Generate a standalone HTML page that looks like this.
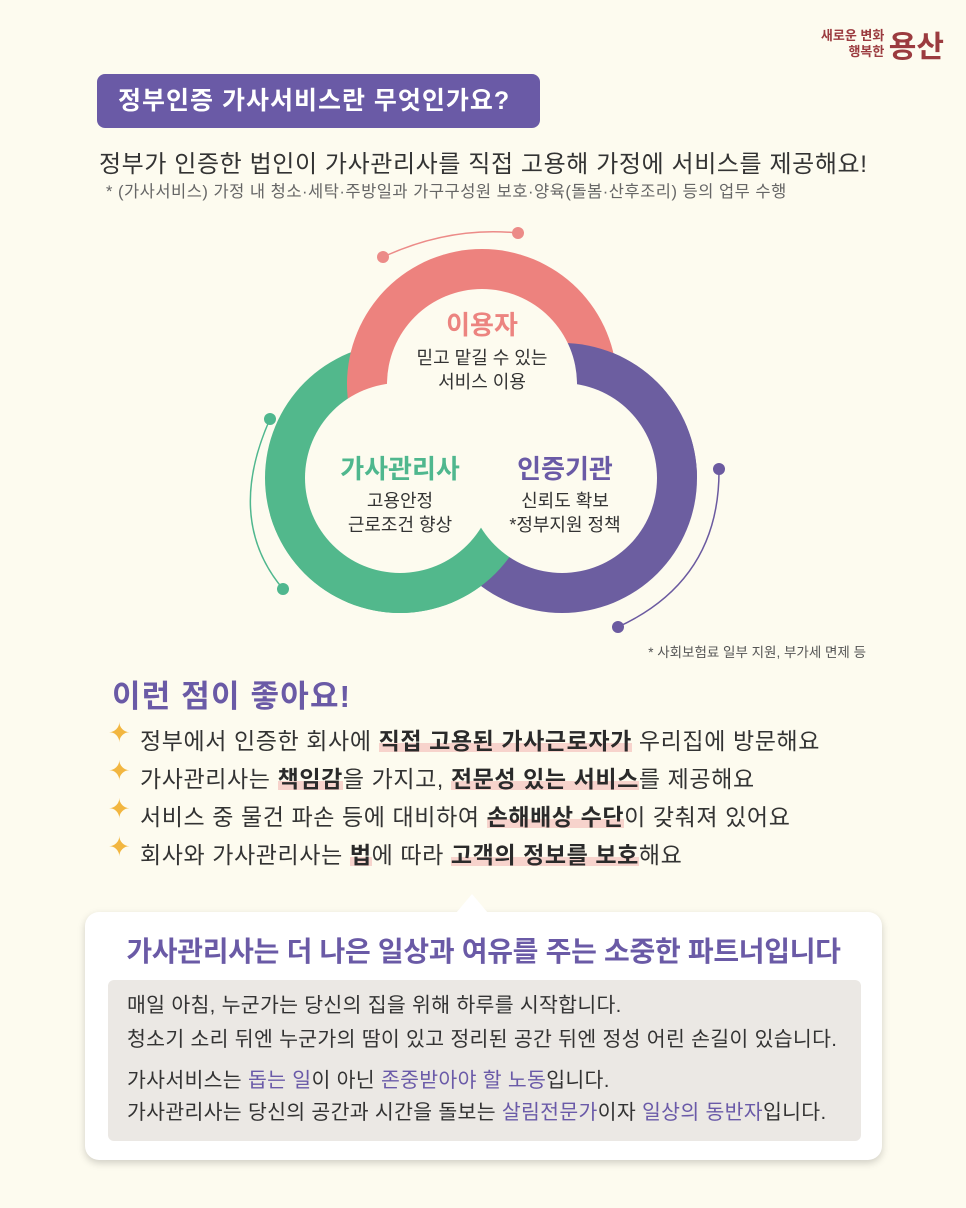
<!DOCTYPE html>
<html><head><meta charset="utf-8"><style>
*{margin:0;padding:0;box-sizing:border-box}
body{width:966px;height:1208px;background:#fdfbef;position:relative;overflow:hidden;font-family:"Liberation Sans","Noto Sans CJK KR",sans-serif;color:#333}
.a{position:absolute;white-space:nowrap}
.hl{font-weight:bold;background:linear-gradient(transparent 58%,#f7d3cc 58%,#f7d3cc 92%,transparent 92%);color:#2a2a2a}
.b{font-size:23px;letter-spacing:0.6px;color:#333;left:140px}
.sp{position:absolute;left:-32px;top:-4px;color:#f2b640;font-size:27px}
.p{color:#6a5aa8}
</style></head><body>
<div class="a" style="right:22px;top:22px;text-align:right;color:#9b3b3f;">
<div style="display:inline-block;font-size:13px;line-height:16px;text-align:right;vertical-align:middle;font-weight:bold">새로운 변화<br>행복한</div>
<span style="font-size:30px;font-weight:bold;vertical-align:middle">용산</span></div>
<div class="a" style="left:97px;top:74px;width:443px;height:54px;background:#6a5aa6;border-radius:8px;color:#fff;font-size:25px;letter-spacing:1px;font-weight:bold;line-height:54px;padding-left:21px">정부인증 가사서비스란 무엇인가요?</div>
<div class="a" style="left:99px;top:144px;font-size:24px;letter-spacing:0.6px;color:#333">정부가 인증한 법인이 가사관리사를 직접 고용해 가정에 서비스를 제공해요!</div>
<div class="a" style="left:106px;top:178px;font-size:16.5px;letter-spacing:0.5px;color:#666">* (가사서비스) 가정 내 청소·세탁·주방일과 가구구성원 보호·양육(돌봄·산후조리) 등의 업무 수행</div>
<svg class="a" style="left:0;top:0" width="966" height="700">
<defs>
<clipPath id="cr"><path d="M560 478 L560 330 L760 330 L760 478Z"/></clipPath>
<clipPath id="cb"><rect x="250" y="515" width="262" height="120"/></clipPath>
</defs>
<g fill="none" stroke-width="1.5">
<path d="M383 257 Q450 226 518 233" stroke="#ec8b88"/>
<path d="M270 419 Q225 520 283 589" stroke="#4fb78e"/>
<path d="M719 469 Q720 580 618 627" stroke="#6b5aa0"/>
</g>
<circle cx="383" cy="257" r="6" fill="#ec8b88"/><circle cx="518" cy="233" r="6" fill="#ec8b88"/>
<circle cx="270" cy="419" r="6" fill="#4fb78e"/><circle cx="283" cy="589" r="6" fill="#4fb78e"/>
<circle cx="719" cy="469" r="6" fill="#6b5aa0"/><circle cx="618" cy="627" r="6" fill="#6b5aa0"/>
<circle cx="400" cy="478" r="135" fill="#52b88c"/>
<circle cx="562" cy="478" r="135" fill="#6c5ea0"/>
<circle cx="482" cy="384" r="135" fill="#ed827e"/>
<circle cx="562" cy="478" r="135" fill="#6c5ea0" clip-path="url(#cr)"/>
<circle cx="400" cy="478" r="135" fill="#52b88c" clip-path="url(#cb)"/>
<circle cx="482" cy="384" r="95" fill="#fdfbef"/>
<circle cx="400" cy="478" r="95" fill="#fdfbef"/>
<circle cx="562" cy="478" r="95" fill="#fdfbef"/>
<circle cx="482" cy="455" r="50" fill="#fdfbef"/>
<g font-family="Liberation Sans,Noto Sans CJK KR,sans-serif" text-anchor="middle">
<text x="482" y="334" font-size="26" font-weight="bold" fill="#ec8480">이용자</text>
<text x="482" y="364" font-size="18" fill="#333">믿고 맡길 수 있는</text>
<text x="482" y="388" font-size="18" fill="#333">서비스 이용</text>
<text x="400" y="478" font-size="26" font-weight="bold" fill="#4fb78e">가사관리사</text>
<text x="400" y="507" font-size="18" fill="#333">고용안정</text>
<text x="400" y="531" font-size="18" fill="#333">근로조건 향상</text>
<text x="565" y="478" font-size="26" font-weight="bold" fill="#6a5aa6">인증기관</text>
<text x="565" y="507" font-size="18" fill="#333">신뢰도 확보</text>
<text x="565" y="531" font-size="18" fill="#333">*정부지원 정책</text>
</g>
</svg>
<div class="a" style="right:100px;top:641px;font-size:13.5px;color:#555">* 사회보험료 일부 지원, 부가세 면제 등</div>
<div class="a" style="left:112px;top:671px;font-size:31px;letter-spacing:1.2px;font-weight:bold;color:#6a5aa6">이런 점이 좋아요!</div>
<div class="a b" style="top:722px"><span class="sp">✦</span>정부에서 인증한 회사에 <span class="hl">직접 고용된 가사근로자가</span> 우리집에 방문해요</div>
<div class="a b" style="top:760px"><span class="sp">✦</span>가사관리사는 <span class="hl">책임감</span>을 가지고, <span class="hl">전문성 있는 서비스</span>를 제공해요</div>
<div class="a b" style="top:798px"><span class="sp">✦</span>서비스 중 물건 파손 등에 대비하여 <span class="hl">손해배상 수단</span>이 갖춰져 있어요</div>
<div class="a b" style="top:836px"><span class="sp">✦</span>회사와 가사관리사는 <span class="hl">법</span>에 따라 <span class="hl">고객의 정보를 보호</span>해요</div>
<div class="a" style="left:85px;top:912px;width:797px;height:248px;background:#fff;border-radius:14px;box-shadow:0 3px 8px rgba(0,0,0,.18)"></div>
<div class="a" style="left:456px;top:894px;width:0;height:0;border-left:16px solid transparent;border-right:16px solid transparent;border-bottom:19px solid #fff"></div>
<div class="a" style="left:85px;width:797px;top:930px;text-align:center;font-size:28px;font-weight:bold;color:#6a5aa6;letter-spacing:-0.3px">가사관리사는 더 나은 일상과 여유를 주는 소중한 파트너입니다</div>
<div class="a" style="left:108px;top:980px;width:753px;height:161px;background:#ebe8e4;border-radius:6px"></div>
<div class="a" style="left:127px;top:989px;font-size:20.5px;letter-spacing:0.3px;line-height:34px;color:#333">매일 아침, 누군가는 당신의 집을 위해 하루를 시작합니다.<br>청소기 소리 뒤엔 누군가의 땀이 있고 정리된 공간 뒤엔 정성 어린 손길이 있습니다.</div>
<div class="a" style="left:127px;top:1065px;font-size:20.5px;letter-spacing:0.3px;line-height:32px;color:#333">가사서비스는 <span class="p">돕는 일</span>이 아닌 <span class="p">존중받아야 할 노동</span>입니다.<br>가사관리사는 당신의 공간과 시간을 돌보는 <span class="p">살림전문가</span>이자 <span class="p">일상의 동반자</span>입니다.</div>
</body></html>
